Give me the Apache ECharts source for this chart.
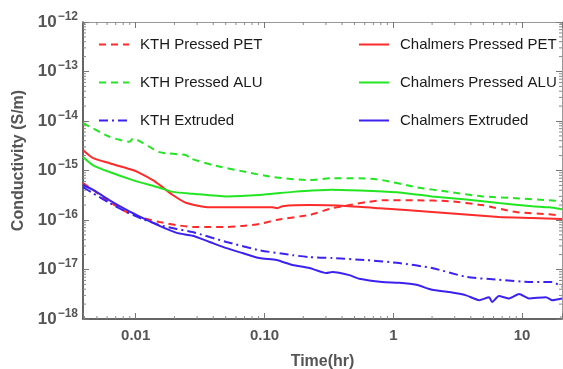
<!DOCTYPE html>
<html>
<head>
<meta charset="utf-8">
<script src="https://cdn.jsdelivr.net/npm/echarts@6/dist/echarts.min.js"></script>
<style>
  html, body { margin: 0; padding: 0; background: #fff; }
  #box { width: 563px; height: 369px; }
</style>
</head>
<body>
<div id="box"></div>
<script>
// time axis (hr) and conductivity (S/m)
var kthPetT = [0.0039, 0.00464, 0.00628, 0.0085, 0.0113, 0.0153, 0.0208, 0.0277, 0.0375, 0.0507, 0.0675, 0.0914, 0.124, 0.223, 0.253, 0.336, 0.456, 0.618, 0.82, 1.51, 2.72, 4.9, 8.98, 16.2, 18.4];
var kthPetV = [5.6e-16, 4.1e-16, 2.3e-16, 1.45e-16, 1.1e-16, 9.1e-17, 7.9e-17, 7.2e-17, 7.2e-17, 7.2e-17, 7.6e-17, 8.3e-17, 1.0e-16, 1.26e-16, 1.38e-16, 1.73e-16, 2.0e-16, 2.3e-16, 2.5e-16, 2.5e-16, 2.4e-16, 2.0e-16, 1.45e-16, 1.3e-16, 1.26e-16];

var kthAluT = [0.0039, 0.00628, 0.00898, 0.0095, 0.0153, 0.0248, 0.0262, 0.0396, 0.0725, 0.115, 0.223, 0.336, 0.544, 0.82, 1.51, 2.72, 4.9, 8.98, 16.2, 20.4];
var kthAluV = [9.1e-15, 4.8e-15, 3.8e-15, 4.4e-15, 2.35e-15, 2.04e-15, 1.78e-15, 1.29e-15, 9.3e-16, 7.4e-16, 6.4e-16, 7.0e-16, 7.0e-16, 6.4e-16, 4.6e-16, 3.7e-16, 3.0e-16, 2.75e-16, 2.5e-16, 2.4e-16];

var kthExtT = [0.0039, 0.00464, 0.00628, 0.0085, 0.0113, 0.0153, 0.0208, 0.0277, 0.0507, 0.0914, 0.165, 0.223, 0.336, 0.618, 1.11, 2.0, 3.68, 6.6, 12.0, 17.1, 20.4];
var kthExtV = [4.6e-16, 3.5e-16, 2.2e-16, 1.45e-16, 1.05e-16, 7.9e-17, 6.6e-17, 5.7e-17, 3.6e-17, 2.45e-17, 1.95e-17, 1.78e-17, 1.7e-17, 1.55e-17, 1.35e-17, 1.07e-17, 7.1e-18, 6.2e-18, 5.6e-18, 5.6e-18, 4.5e-18];

var chPetT = [0.0039, 0.00464, 0.00628, 0.0095, 0.0104, 0.0136, 0.0162, 0.0194, 0.0248, 0.0375, 0.0675, 0.115, 0.126, 0.138, 0.223, 0.456, 0.78, 2.0, 6.6, 12.0, 20.4];
var chPetV = [2.6e-15, 1.8e-15, 1.4e-15, 1.02e-15, 9.3e-16, 6.4e-16, 4.6e-16, 3.2e-16, 2.2e-16, 1.8e-16, 1.8e-16, 1.8e-16, 1.73e-16, 1.9e-16, 2.0e-16, 1.9e-16, 1.73e-16, 1.45e-16, 1.15e-16, 1.1e-16, 1.05e-16];

var chAluT = [0.0039, 0.00464, 0.00628, 0.0095, 0.0153, 0.0194, 0.0277, 0.0507, 0.0914, 0.165, 0.223, 0.336, 0.618, 1.11, 2.0, 3.68, 6.6, 12.0, 16.2, 20.4];
var chAluV = [1.87e-15, 1.29e-15, 9.3e-16, 6.4e-16, 4.5e-16, 3.7e-16, 3.4e-16, 3.0e-16, 3.2e-16, 3.7e-16, 3.9e-16, 4.1e-16, 3.9e-16, 3.6e-16, 3.0e-16, 2.6e-16, 2.2e-16, 1.9e-16, 1.8e-16, 1.65e-16];

var chExtT = [0.0039, 0.00464, 0.00628, 0.0085, 0.0113, 0.0153, 0.0208, 0.0277, 0.0375, 0.0507, 0.0675, 0.0914, 0.124, 0.165, 0.223, 0.303, 0.336, 0.456, 0.544, 0.82, 1.11, 1.51, 2.0, 2.72, 3.68, 4.64, 5.55, 5.85, 6.6, 7.93, 9.48, 11.3, 15.3, 17.1, 20.4];
var chExtV = [5.1e-16, 4.1e-16, 2.5e-16, 1.6e-16, 1.1e-16, 7.6e-17, 5.5e-17, 4.8e-17, 3.6e-17, 2.7e-17, 2.15e-17, 1.7e-17, 1.55e-17, 1.23e-17, 1.07e-17, 8.5e-18, 8.9e-18, 7.7e-18, 6.5e-18, 5.6e-18, 5.4e-18, 4.9e-18, 3.9e-18, 3.5e-18, 3.0e-18, 2.4e-18, 2.75e-18, 2.2e-18, 2.9e-18, 2.6e-18, 3.2e-18, 2.6e-18, 2.75e-18, 2.4e-18, 2.6e-18];

var xMin = 0.0039, xMax = 20.4;
var yMin = 1e-18, yMax = 1e-12;
var xTickLabels = {'-2': '0.01', '-1': '0.10', '0': '1', '1': '10'};

function zip(t, v) {
  return t.map(function (x, i) { return [x, v[i]]; });
}

// minor tick positions 2..9 of each decade
function minorValues(lo, hi) {
  var out = [];
  for (var e = Math.floor(Math.log10(lo)); e <= Math.ceil(Math.log10(hi)); e++) {
    for (var m = 2; m <= 9; m++) {
      var v = m * Math.pow(10, e);
      if (v > lo && v < hi) out.push(v);
    }
  }
  return out;
}

var red = '#ff2a2a', green = '#22e622', blue = '#3b22f0';
var gray = '#555';

function line(name, t, v, color, type) {
  return {
    name: name,
    type: 'line',
    symbol: 'none',
    smooth: 0.2,
    data: zip(t, v),
    lineStyle: { color: color, width: 2, type: type },
    itemStyle: { color: color },
    z: 3
  };
}

var myChart = echarts.init(document.getElementById('box'));

var logAxisBase = {
  type: 'log',
  logBase: 10,
  axisLine: { lineStyle: { color: '#333', width: 1.5 } },
  axisTick: { inside: true, length: 6, lineStyle: { color: '#777' } },
  splitLine: { show: false }
};

var legendBase = {
  top: 32, orient: 'vertical', itemWidth: 30, itemHeight: 14, itemGap: 23,
  itemStyle: { opacity: 0 },
  textStyle: { fontSize: 15, color: '#1a1a1a', padding: [0, 0, 0, 6], fontFamily: 'Liberation Sans' }
};

var option = {
  backgroundColor: '#fff',
  animation: false,
  grid: { left: 83, right: 1, top: 22, bottom: 50, outerBoundsMode: 'none', containLabel: false },
  legend: [
    Object.assign({}, legendBase, {
      left: 93,
      data: ['KTH Pressed PET', 'KTH Pressed ALU', 'KTH Extruded']
    }),
    Object.assign({}, legendBase, {
      left: 353,
      data: ['Chalmers Pressed PET', 'Chalmers Pressed ALU', 'Chalmers Extruded']
    })
  ],
  xAxis: [
    Object.assign({}, logAxisBase, {
      min: xMin, max: xMax,
      name: 'Time(hr)', nameLocation: 'middle', nameGap: 35,
      nameTextStyle: { fontSize: 16, fontWeight: 'bold', color: gray, fontFamily: 'Liberation Sans' },
      axisLabel: {
        margin: 9, fontSize: 15, fontWeight: 'bold', color: gray, fontFamily: 'Liberation Sans',
        formatter: function (val) {
          var e = Math.log10(val), r = Math.round(e);
          if (Math.abs(e - r) > 0.01) return '';
          return xTickLabels[String(r)] || '';
        }
      }
    }),
    Object.assign({}, logAxisBase, {
      min: xMin, max: xMax, position: 'top',
      axisLine: { lineStyle: { color: '#999', width: 1 } },
      axisLabel: { show: false }
    })
  ],
  yAxis: [
    Object.assign({}, logAxisBase, {
      min: yMin, max: yMax, splitNumber: 6,
      name: 'Conductivity (S/m)', nameLocation: 'middle', nameGap: 56,
      nameTextStyle: { fontSize: 16, fontWeight: 'bold', color: gray, fontFamily: 'Liberation Sans', padding: [0, 0, 0, 20] },
      axisLabel: {
        margin: 5, color: gray,
        formatter: function (val) {
          var e = Math.log10(val), r = Math.round(e);
          if (Math.abs(e - r) > 0.01) return '';
          return '{b|10}{e|\u2212' + (-r) + '}';
        },
        rich: {
          b: { fontSize: 17, fontWeight: 'bold', color: gray, fontFamily: 'Liberation Sans' },
          e: { fontSize: 12, fontWeight: 'bold', color: gray, fontFamily: 'Liberation Sans', padding: [0, 0, 11, 1] }
        }
      }
    }),
    Object.assign({}, logAxisBase, {
      min: yMin, max: yMax, splitNumber: 6, position: 'right',
      axisLine: { lineStyle: { color: '#999', width: 1 } },
      axisLabel: { show: false }
    })
  ],
  series: [
    line('KTH Pressed PET', kthPetT, kthPetV, red, [7, 5]),
    line('KTH Pressed ALU', kthAluT, kthAluV, green, [7, 5]),
    line('KTH Extruded', kthExtT, kthExtV, blue, [9, 4, 2, 4]),
    line('Chalmers Pressed PET', chPetT, chPetV, red, 'solid'),
    line('Chalmers Pressed ALU', chAluT, chAluV, green, 'solid'),
    line('Chalmers Extruded', chExtT, chExtV, blue, 'solid'),
    {
      // minor ticks on bottom and top
      type: 'custom', silent: true, clip: false,
      data: minorValues(xMin, xMax).map(function (v) { return [v, yMin]; }),
      renderItem: function (params, api) {
        var b = api.coord([api.value(0), yMin]);
        var t = api.coord([api.value(0), yMax]);
        var s = { stroke: '#888', lineWidth: 1 };
        return { type: 'group', children: [
          { type: 'line', shape: { x1: b[0], y1: b[1], x2: b[0], y2: b[1] - 3 }, style: s },
          { type: 'line', shape: { x1: t[0], y1: t[1], x2: t[0], y2: t[1] + 3 }, style: s }
        ] };
      }
    },
    {
      // minor ticks on left and right
      type: 'custom', silent: true, clip: false,
      data: minorValues(yMin, yMax).map(function (v) { return [xMin, v]; }),
      renderItem: function (params, api) {
        var l = api.coord([xMin, api.value(1)]);
        var r = api.coord([xMax, api.value(1)]);
        var s = { stroke: '#888', lineWidth: 1 };
        return { type: 'group', children: [
          { type: 'line', shape: { x1: l[0], y1: l[1], x2: l[0] + 3, y2: l[1] }, style: s },
          { type: 'line', shape: { x1: r[0], y1: r[1], x2: r[0] - 3, y2: r[1] }, style: s }
        ] };
      }
    }
  ]
};

myChart.setOption(option);
</script>
</body>
</html>
